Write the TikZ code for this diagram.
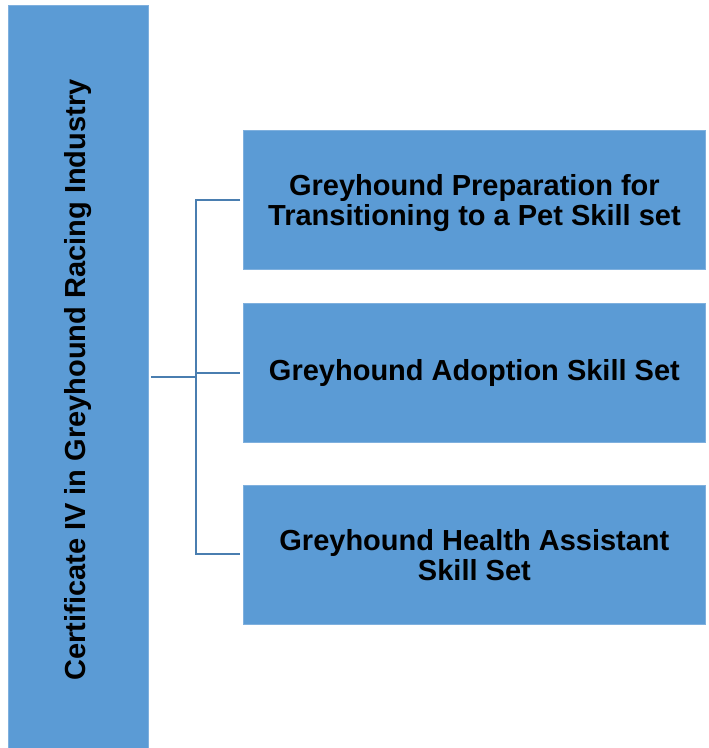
\documentclass[tikz,border=0pt]{standalone}
\usepackage{fontspec}
\setmainfont{Liberation Sans}
\begin{document}
\begin{tikzpicture}[x=1pt,y=-1pt,
  txt/.style={font=\bfseries\fontsize{29}{30}\selectfont},
  box/.style={fill=boxblue,draw=boxedge,line width=0.8pt,inner sep=0pt,txt,align=center,anchor=north west},
  conn/.style={draw=lineblue,line width=2.2pt}]
\definecolor{boxblue}{HTML}{5B9BD5}
\definecolor{boxedge}{HTML}{7FB0DE}
\definecolor{lineblue}{HTML}{4A7EB0}
\useasboundingbox (0,0) rectangle (709,748);
\node[box,minimum width=140pt,minimum height=745pt] (cert) at (8,5) {};
\node[txt,rotate=90] (certtxt) at ([yshift=-2pt]cert.center) {Certificate IV in Greyhound Racing Industry};
\node[box,minimum width=462pt,minimum height=139pt,text depth=-2pt] (b1) at (243,130) {Greyhound Preparation for\\Transitioning to a Pet Skill set};
\node[box,minimum width=462pt,minimum height=139pt] (b2) at (243,303) {Greyhound Adoption Skill Set};
\node[box,minimum width=462pt,minimum height=139pt] (b3) at (243,485) {Greyhound Health Assistant\\Skill Set};
\coordinate (j) at (196,377);
\coordinate (t1) at (196,200);
\coordinate (t3) at (196,554);
\draw[conn] (cert.east |- j) ++(2,0) -- (j);
\draw[conn] (b1.west |- t1) ++(-3,0) -- (t1) -- (t3) -- ([xshift=-3pt]b3.west |- t3);
\draw[conn] (196,373) -- ([xshift=-3pt]b2.west |- 0,373);
\end{tikzpicture}
\end{document}
